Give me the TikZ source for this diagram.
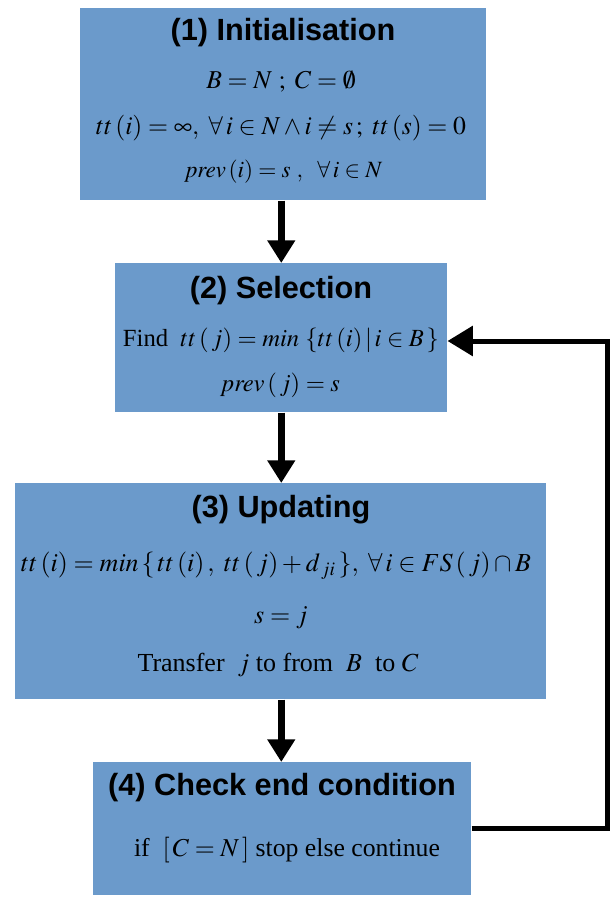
\documentclass[tikz,border=0pt]{standalone}
\usepackage{mathptmx}
\usepackage[no-math]{fontspec}
\setmainfont{Liberation Serif}
\setsansfont{Liberation Sans}
\usetikzlibrary{arrows.meta}
\definecolor{boxblue}{RGB}{107,154,203}
\tikzset{
  box/.style={fill=boxblue, draw=none, anchor=north west, inner sep=0pt},
  head/.style={font=\sffamily\bfseries\fontsize{23}{26}\selectfont, anchor=center},
  txt/.style={font=\fontsize{19.3}{22}\selectfont, anchor=center},
  txtm/.style={font=\fontsize{18.5}{21}\selectfont, anchor=center},
  txtb/.style={font=\fontsize{19.5}{23}\selectfont, anchor=center},
  txts/.style={font=\fontsize{17.5}{20}\selectfont, anchor=center},
  vArrow/.style={line width=5.25pt, -{Triangle[width=20pt,length=17pt]}},
  fbArrow/.style={line width=3.75pt, -{Triangle[width=22pt,length=19pt]}}
}
\begin{document}
\begin{tikzpicture}[x=0.75pt,y=-0.75pt]
\useasboundingbox (0,0) rectangle (611,898);
% boxes
\node[box, minimum width=304.5pt, minimum height=144pt] (b1) at (80,8) {};
\node[box, minimum width=249pt, minimum height=111.75pt] (b2) at (115,263) {};
\node[box, minimum width=398.25pt, minimum height=162pt] (b3) at (15,483) {};
\node[box, minimum width=283.5pt, minimum height=99.75pt] (b4) at (93,762) {};
% box 1 texts
\node[head] (h1) at (283,33) {(1) Initialisation};
\node[txt] (l11) at (281,82) {$B=N\ ;\ C=\emptyset$};
\node[txt] (l12) at (281,128) {$tt\left(i\right)=\infty,\ \forall\, i\in N\wedge i\neq s\,;\ tt\left(s\right)=0$};
\node[txts] (l13) at (284,172) {$\mathit{prev}\left(i\right)=s\ ,\ \ \forall\, i\in N$};
% box 2 texts
\node[head] (h2) at (281,291) {(2) Selection};
\node[txtm] (l21) at (281,340) {Find\ \ $tt\left(\,j\right)=\mathit{min}\ \{tt\left(i\right)|\,i\in B\,\}$};
\node[txtm] (l22) at (281,385) {$\mathit{prev}\left(\,j\right)=s$};
% box 3 texts
\node[head] (h3) at (281,510) {(3) Updating};
\node[txtb] (l31) at (276,566) {$tt\left(i\right)=\mathit{min}\,\{\,tt\left(i\right),\ tt\left(\,j\right)+d_{\,ji}\,\},\ \forall\, i\in FS\left(\,j\right)\cap B$};
\node[txtb] (l32) at (281,618) {$s=j$};
\node[txtb] (l33) at (278,665) {Transfer\ \ $j$\ to from\ \ $B$\ \ to\ $C$};
% box 4 texts
\node[head] (h4) at (282,788) {(4) Check end condition};
\node[txt] (l41) at (287,850) {if\ \ $[\,C=N\,]$ stop else continue};
% connectors
\coordinate (rt) at (607,341);
\draw[vArrow] (b2.north |- b1.south) -- (b2.north);
\draw[vArrow] (b2.south) -- (b2.south |- b3.north);
\draw[vArrow] (b3.south -| b2.south) -- (b4.north -| b2.south);
\draw[fbArrow] (b4.east) -| (rt) -- (b2.east |- rt);
\end{tikzpicture}
\end{document}
